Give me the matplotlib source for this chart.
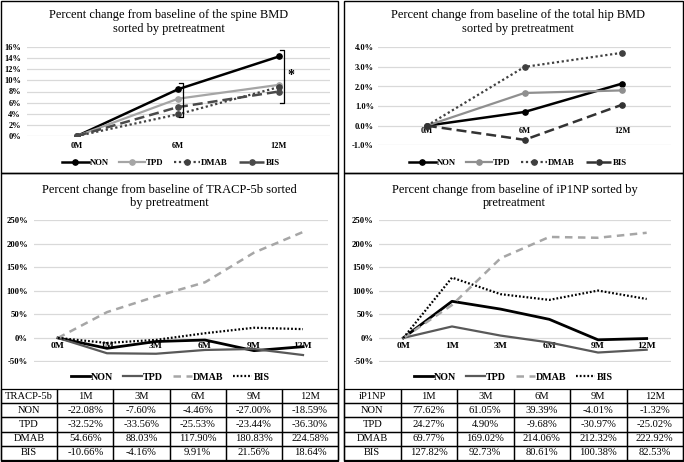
import numpy as np
import matplotlib
matplotlib.use("Agg")
import matplotlib.pyplot as plt
from matplotlib.patches import Rectangle

plt.rcParams['font.family'] = ['Liberation Serif', 'DejaVu Serif']

W, H = 684, 462

groups = ["NON", "TPD", "DMAB", "BIS"]

# BMD, percent change
bmd_months = ["0M", "6M", "12M"]
spine_non = [0, 8.4, 14.3]
spine_tpd = [0, 6.7, 9.2]
spine_dmab = [0, 3.9, 8.8]
spine_bis = [0, 5.2, 8.0]

hip_non = [0, 0.70, 2.15]
hip_tpd = [0, 1.67, 1.80]
hip_dmab = [0, 3.00, 3.72]
hip_bis = [0, -0.72, 1.07]

# significance brackets on the spine chart: (category index, low, high)
spine_brackets = [(1, 3.5, 9.5), (2, 5.9, 15.5)]
spine_star = (2, 10.8)

# bone markers, percent change
marker_months = ["0M", "1M", "3M", "6M", "9M", "12M"]
tracp_non = [0, -22.08, -7.60, -4.46, -27.00, -18.59]
tracp_tpd = [0, -32.52, -33.56, -25.53, -23.44, -36.30]
tracp_dmab = [0, 54.66, 88.03, 117.90, 180.83, 224.58]
tracp_bis = [0, -10.66, -4.16, 9.91, 21.56, 18.64]

p1np_non = [0, 77.62, 61.05, 39.39, -4.01, -1.32]
p1np_tpd = [0, 24.27, 4.90, -9.68, -30.97, -25.02]
p1np_dmab = [0, 69.77, 169.02, 214.06, 212.32, 222.92]
p1np_bis = [0, 127.82, 92.73, 80.61, 100.38, 82.53]

fig = plt.figure(figsize=(W / 100, H / 100), dpi=100)


def px_axes(x0, y0, x1, y1):
    return fig.add_axes([x0 / W, 1 - y1 / H, (x1 - x0) / W, (y1 - y0) / H])


def box(x0, y0, x1, y1):
    fig.add_artist(Rectangle((x0 / W, 1 - y1 / H), (x1 - x0) / W, (y1 - y0) / H,
                             transform=fig.transFigure, fill=False, lw=1.0,
                             edgecolor='black'))


def setup(ax, cats, ylim, yticks, ylabels, tsize, xsize, ypad, xpad):
    ax.set_facecolor('none')
    ax.set_xlim(-0.5, len(cats) - 0.5)
    ax.set_ylim(*ylim)
    ax.set_yticks(yticks, ylabels)
    ax.set_xticks(range(len(cats)), cats)
    for s in ['top', 'right', 'left']:
        ax.spines[s].set_visible(False)
    ax.spines['bottom'].set_position(('data', 0))
    ax.spines['bottom'].set_color('none')
    ax.tick_params(axis='y', length=0, pad=ypad, labelsize=tsize)
    ax.tick_params(axis='x', length=0, pad=xpad, labelsize=xsize)
    for lab in ax.get_xticklabels() + ax.get_yticklabels():
        lab.set_fontweight('bold')
    ax.yaxis.grid(True, color='#d9d9d9', lw=0.9)
    ax.set_axisbelow(True)


def legend(ax, cx, cy, size, hl, cs):
    ax.legend(loc='center', bbox_to_anchor=(cx / W, 1 - cy / H),
              bbox_transform=fig.transFigure, ncol=4, frameon=False,
              prop={'size': size, 'weight': 'bold'}, handlelength=hl,
              handletextpad=0.1, columnspacing=cs, borderpad=0)


# ---- top left: spine BMD ----
ax1 = px_axes(26.5, 47, 329.5, 136)
x3 = np.arange(len(bmd_months))
mk = dict(marker='o', markersize=3.8)
ax1.plot(x3, spine_non, color='black', lw=1.8, label='NON', **mk)
ax1.plot(x3, spine_tpd, color='#a5a5a5', lw=1.6, label='TPD', **mk)
ax1.plot(x3, spine_dmab, color='#404040', lw=1.6, ls=(0, (1, 1.2)), label='DMAB', **mk)
ax1.plot(x3, spine_bis, color='#4a4a4a', lw=1.8, ls=(0, (4, 2)), label='BIS', **mk)
setup(ax1, bmd_months, (0, 16), range(0, 17, 2), [f"{v}%" for v in range(0, 17, 2)],
      6, 6, 4, 4)
for ci, lo, hi in spine_brackets:
    xb = ci + 0.05
    ax1.plot([xb - 0.045, xb, xb, xb - 0.045], [hi, hi, lo, lo], color='black', lw=0.9)
ax1.text(spine_star[0] + 0.12, spine_star[1], '*', ha='center', va='center',
         fontsize=10, fontweight='bold')
legend(ax1, 171, 163, 6.3, 3, 1.2)
fig.text(169 / W, 1 - 22 / H, "Percent change from baseline of the spine BMD\nsorted by pretreatment",
         ha='center', va='center', fontsize=8.9, linespacing=1.15)

# ---- top right: total hip BMD ----
ax2 = px_axes(378, 47.3, 671, 145.3)
ax2.plot(x3, hip_non, color='black', lw=1.8, label='NON', **mk)
ax2.plot(x3, hip_tpd, color='#8f8f8f', lw=1.6, label='TPD', **mk)
ax2.plot(x3, hip_dmab, color='#404040', lw=1.6, ls=(0, (1, 1.2)), label='DMAB', **mk)
ax2.plot(x3, hip_bis, color='#333333', lw=1.8, ls=(0, (4, 2)), label='BIS', **mk)
hip_ticks = [-1, 0, 1, 2, 3, 4]
setup(ax2, bmd_months, (-1, 4), hip_ticks, [f"{v:.1f}%" for v in hip_ticks],
      6, 6, 3, 1)
legend(ax2, 518, 163, 6.3, 3, 1.2)
fig.text(518 / W, 1 - 22 / H, "Percent change from baseline of the total hip BMD\nsorted by pretreatment",
         ha='center', va='center', fontsize=8.9, linespacing=1.15)

# ---- bottom panels: markers ----
x6 = np.arange(len(marker_months))
mticks = list(range(-50, 251, 50))
mlabels = [f"{v}%" for v in mticks]


def marker_chart(x0, x1, non, tpd, dmab, bis):
    ax = px_axes(x0, 220, x1, 361.5)
    ax.plot(x6, non, color='black', lw=2.0, label='NON')
    ax.plot(x6, tpd, color='#595959', lw=1.6, label='TPD')
    ax.plot(x6, dmab, color='#a6a6a6', lw=1.8, ls=(0, (3, 2.2)), label='DMAB')
    ax.plot(x6, bis, color='black', lw=1.6, ls=(0, (0.8, 0.9)), label='BIS')
    setup(ax, marker_months, (-50, 250), mticks, mlabels, 6.2, 6.8, 4, 3)
    return ax


def draw_table(x0, x1, header, series):
    tax = px_axes(x0, 389, x1, 460)
    tax.axis('off')
    cells = [[g] + [f"{v:.2f}%" for v in vals[1:]] for g, vals in zip(groups, series)]
    tbl = tax.table(cellText=cells, colLabels=[header] + marker_months[1:],
                    bbox=[0, 0, 1, 1], cellLoc='center')
    tbl.auto_set_font_size(False)
    tbl.set_fontsize(7.6)
    for c in tbl.get_celld().values():
        c.set_linewidth(0.9)
        c.set_edgecolor('black')
        c.set_facecolor('none')


ax3 = marker_chart(33.5, 327.5, tracp_non, tracp_tpd, tracp_dmab, tracp_bis)
legend(ax3, 170, 377, 7.2, 1.9, 1.0)
fig.text(169.5 / W, 1 - 196.7 / H, "Percent change from baseline of TRACP-5b sorted\nby pretreatment",
         ha='center', va='center', fontsize=9.0, linespacing=1.1)
draw_table(1, 338, "TRACP-5b", [tracp_non, tracp_tpd, tracp_dmab, tracp_bis])

ax4 = marker_chart(379, 671, p1np_non, p1np_tpd, p1np_dmab, p1np_bis)
legend(ax4, 513, 377, 7.2, 1.9, 1.0)
fig.text(514.5 / W, 1 - 196.7 / H, "Percent change from baseline of iP1NP sorted by\npretreatment",
         ha='center', va='center', fontsize=9.0, linespacing=1.1)
draw_table(344, 683, "iP1NP", [p1np_non, p1np_tpd, p1np_dmab, p1np_bis])

# panel frames
box(1, 1, 338, 173)
box(344, 1, 683, 173)
box(1, 173, 338, 461)
box(344, 173, 683, 461)

fig.savefig("out.png", dpi=100)
